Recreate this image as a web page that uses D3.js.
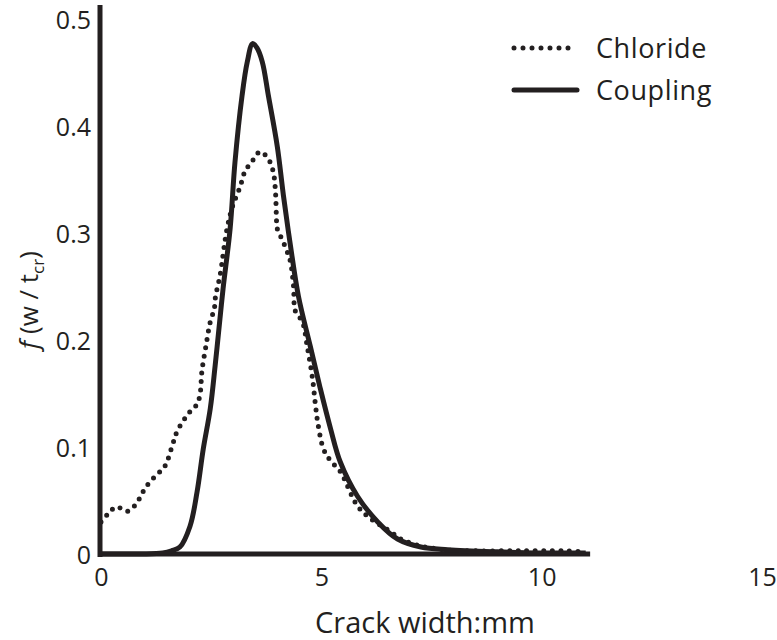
<!DOCTYPE html>
<html lang="en">
<head>
    <meta charset="UTF-8">
    <title>Crack width distribution</title>
    <script src="https://cdn.jsdelivr.net/npm/d3@7"></script>
    <style>
        body {
            margin: 0;
            background-color: #fff;
        }

        text {
            font-family: "Open Sans", sans-serif;
            fill: #231f20;
        }

        .tick text {
            font-size: 25px;
        }

        .legend text {
            font-size: 27px;
            letter-spacing: 0.6px;
        }
    </style>
</head>
<body>
    <script>
        // crack width (mm) and density for each curve
        const couplingX = [0, 0.5, 1.0, 1.4, 1.6, 1.79, 2.02, 2.18, 2.32, 2.48, 2.59, 2.7, 2.77, 2.93, 3.04, 3.2, 3.32, 3.44,
            3.54, 3.66, 3.8, 4.0, 4.14, 4.3, 4.48, 4.75, 4.98, 5.21, 5.43, 5.82, 6.28, 6.73, 7.26, 7.87, 9, 10, 11];
        const couplingY = [0, 0, 0, 0.001, 0.003, 0.0065, 0.026, 0.058, 0.098, 0.136, 0.176, 0.22, 0.248, 0.304, 0.366, 0.428, 0.46, 0.477,
            0.473, 0.46, 0.428, 0.381, 0.335, 0.288, 0.241, 0.194, 0.154, 0.117, 0.086, 0.054, 0.030, 0.014, 0.0065, 0.004, 0.002, 0.001, 0.001];

        const chlorideX = [0, 0.15, 0.35, 0.6, 0.8, 0.95, 1.1, 1.29, 1.45, 1.63, 1.72, 1.86, 2.02, 2.18, 2.25, 2.29, 2.38, 2.48, 2.57,
            2.6, 2.7, 2.86, 3.0, 3.11, 3.2, 3.27, 3.43, 3.61, 3.8, 3.91, 3.96, 3.98, 4.0, 4.11, 4.23, 4.3, 4.37, 4.41, 4.57, 4.68,
            4.8, 4.87, 4.93, 5.05, 5.21, 5.43, 5.82, 6.12, 6.57, 6.8, 7.26, 7.8, 8.5, 9.5, 10.5, 10.9];
        const chlorideY = [0.030, 0.037, 0.044, 0.040, 0.047, 0.058, 0.067, 0.075, 0.082, 0.103, 0.114, 0.124, 0.133, 0.140, 0.150,
            0.171, 0.194, 0.217, 0.229, 0.241, 0.26, 0.304, 0.327, 0.338, 0.349, 0.358, 0.367, 0.376, 0.369, 0.357, 0.338, 0.316,
            0.304, 0.294, 0.282, 0.273, 0.25, 0.227, 0.217, 0.194, 0.164, 0.138, 0.12, 0.098, 0.087, 0.077, 0.045, 0.033, 0.021,
            0.014, 0.0075, 0.004, 0.003, 0.003, 0.003, 0.002];

        const xTicks = [0, 5, 10, 15];
        const yTicks = [0, 0.1, 0.2, 0.3, 0.4, 0.5];
        const seriesNames = ['Chloride', 'Coupling'];

        const w = 777;
        const h = 640;
        const ink = '#231f20';

        const svg = d3.select('body')
            .append('svg')
            .attr('width', w)
            .attr('height', h);

        const xScale = d3.scaleLinear([0, 15], [101, 762]);
        const yScale = d3.scaleLinear([0, 0.5], [555, 20]);

        // axes: labels only, the heavy spines are drawn below
        svg.append('g')
            .attr('transform', `translate(0, 555)`)
            .call(d3.axisBottom(xScale).tickValues(xTicks).tickSize(0).tickPadding(13).tickFormat(d3.format('d')))
            .call(g => g.select('.domain').remove());

        svg.append('g')
            .attr('transform', `translate(100, 0)`)
            .call(d3.axisLeft(yScale).tickValues(yTicks).tickSize(0).tickPadding(9).tickFormat(d => d === 0 ? '0' : d3.format('.1f')(d)))
            .call(g => g.select('.domain').remove());

        svg.selectAll('.tick text').attr('fill', ink);

        // spines
        svg.append('line')
            .attr('x1', 100).attr('x2', 100)
            .attr('y1', yScale(0) + 2).attr('y2', yScale(0.514))
            .attr('stroke', ink)
            .attr('stroke-width', 5);

        svg.append('line')
            .attr('x1', 98).attr('x2', xScale(11.1))
            .attr('y1', yScale(0) - 1).attr('y2', yScale(0) - 1)
            .attr('stroke', ink)
            .attr('stroke-width', 5);

        const coupling = couplingX.map((x, i) => ({ x, y: couplingY[i] }));
        const chloride = chlorideX.map((x, i) => ({ x, y: chlorideY[i] }));

        const line = d3.line()
            .x(d => xScale(d.x))
            .y(d => yScale(d.y) - 1)
            .curve(d3.curveCatmullRom);

        svg.append('path')
            .datum(chloride)
            .attr('d', line)
            .attr('fill', 'none')
            .attr('stroke', ink)
            .attr('stroke-width', 5)
            .attr('stroke-linecap', 'round')
            .attr('stroke-dasharray', '0 8.5');

        svg.append('path')
            .datum(coupling)
            .attr('d', line)
            .attr('fill', 'none')
            .attr('stroke', ink)
            .attr('stroke-width', 5)
            .attr('stroke-linejoin', 'round');

        // legend
        const legend = svg.append('g').attr('class', 'legend');

        seriesNames.forEach((name, i) => {
            const ly = 48 + i * 42;
            legend.append('line')
                .attr('x1', 514).attr('x2', 577)
                .attr('y1', ly).attr('y2', ly)
                .attr('stroke', ink)
                .attr('stroke-width', 5)
                .attr('stroke-linecap', 'round')
                .attr('stroke-dasharray', i === 0 ? '0 9' : null);

            legend.append('text')
                .attr('x', 596)
                .attr('y', ly + 10)
                .text(name);
        });

        // axis titles
        svg.append('text')
            .attr('x', 425)
            .attr('y', 633)
            .attr('text-anchor', 'middle')
            .style('font-size', '29px')
            .text('Crack width:mm');

        const yTitle = svg.append('text')
            .attr('transform', 'translate(38, 300) rotate(-90)')
            .attr('text-anchor', 'middle')
            .style('font-size', '26px');
        yTitle.append('tspan').style('font-style', 'italic').text('f ');
        yTitle.append('tspan').text('(w / t');
        yTitle.append('tspan').attr('dy', 6).style('font-size', '17px').text('cr');
        yTitle.append('tspan').attr('dy', -6).text(')');
    </script>
</body>
</html>
